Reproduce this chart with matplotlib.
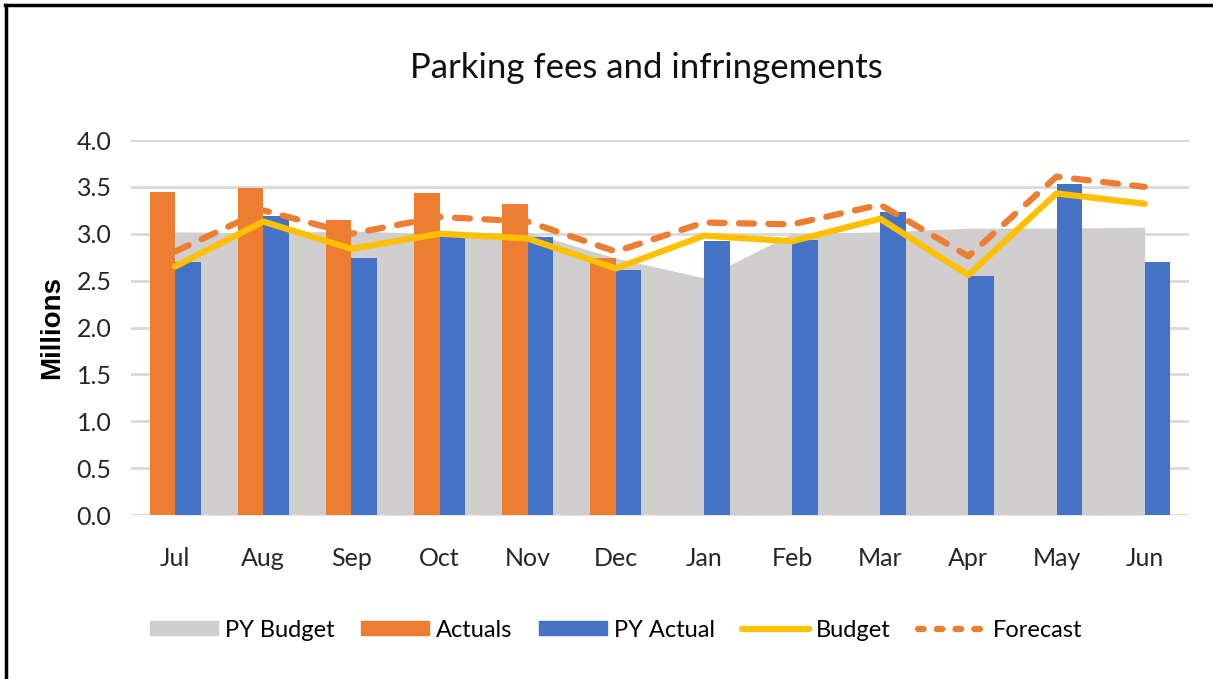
import numpy as np
import matplotlib
matplotlib.use("Agg")
from matplotlib import pyplot as plt
from matplotlib.lines import Line2D

plt.rcParams["font.family"] = ["Lato", "DejaVu Sans"]

months = ["Jul", "Aug", "Sep", "Oct", "Nov", "Dec",
          "Jan", "Feb", "Mar", "Apr", "May", "Jun"]
py_budget = [3.02, 3.01, 3.03, 3.00, 3.02, 2.74, 2.53, 3.00, 3.02, 3.06, 3.06, 3.07]
actuals = [3.45, 3.49, 3.15, 3.43, 3.32, 2.74]
py_actual = [2.70, 3.19, 2.74, 2.97, 2.97, 2.61, 2.92, 2.93, 3.23, 2.55, 3.53, 2.70]
budget = [2.65, 3.13, 2.84, 3.00, 2.95, 2.63, 2.98, 2.92, 3.16, 2.56, 3.43, 3.32]
forecast = [2.81, 3.25, 3.00, 3.18, 3.13, 2.81, 3.12, 3.10, 3.31, 2.76, 3.61, 3.50]

c_gray = "#D0CECE"
c_orange = "#ED7D31"
c_blue = "#4472C4"
c_yellow = "#FFC000"

fig = plt.figure(figsize=(12.13, 6.79), dpi=100)
ax = fig.add_axes([0.108, 0.2415, 0.872, 0.5523])

x = np.arange(len(months))
w = 0.29

ax.fill_between(x, 0, py_budget, color=c_gray, lw=0, zorder=1)
ax.bar(x[:len(actuals)] - w / 2, actuals, width=w, color=c_orange, zorder=2)
ax.bar(x + w / 2, py_actual, width=w, color=c_blue, zorder=2)
ax.plot(x, budget, color=c_yellow, lw=4.5, solid_joinstyle="round",
        solid_capstyle="round", zorder=3)
ax.plot(x, forecast, color=c_orange, lw=4.5, dashes=(2.4, 2.3),
        dash_capstyle="round", zorder=4)

ax.set_xlim(-0.5, len(months) - 0.5)
ax.set_ylim(0, 4.0)
ax.set_yticks(np.arange(0, 4.01, 0.5))
ax.set_yticklabels([f"{v:.1f}" for v in np.arange(0, 4.01, 0.5)])
ax.set_xticks(x)
ax.set_xticklabels(months)
ax.tick_params(axis="both", length=0, labelsize=18, labelcolor="#262626")
ax.tick_params(axis="x", pad=23)
ax.tick_params(axis="y", pad=14)
ax.grid(axis="y", color="#D9D9D9", lw=2, zorder=0)
ax.set_axisbelow(True)
for s in ax.spines.values():
    s.set_visible(False)

ax.set_ylabel("Millions", fontsize=20, fontweight="bold",
              family=["Liberation Sans", "DejaVu Sans"], labelpad=8)

fig.text(0.533, 0.90, "Parking fees and infringements", fontsize=25,
         ha="center", va="center", color="#111111")

handles = [
    plt.Rectangle((0, 0), 1, 1, color=c_gray),
    plt.Rectangle((0, 0), 1, 1, color=c_orange),
    plt.Rectangle((0, 0), 1, 1, color=c_blue),
    Line2D([], [], color=c_yellow, lw=4.5, solid_capstyle="round"),
    Line2D([], [], color=c_orange, lw=4.5, dashes=(0.9, 2.1),
           dash_capstyle="round"),
]
labels = ["PY Budget", "Actuals", "PY Actual", "Budget", "Forecast"]
fig.legend(handles, labels, loc="center", bbox_to_anchor=(0.508, 0.072),
           ncol=5, frameon=False, fontsize=17, handlelength=2.85,
           handleheight=0.55, handletextpad=0.3, columnspacing=1.15)

# frame on left and top edges
fig.add_artist(Line2D([0.005, 0.005], [0, 0.993], transform=fig.transFigure,
                      color="black", lw=2.5))
fig.add_artist(Line2D([0.004, 1.0], [0.993, 0.993], transform=fig.transFigure,
                      color="black", lw=2.5))

fig.savefig("out.png", dpi=100)
